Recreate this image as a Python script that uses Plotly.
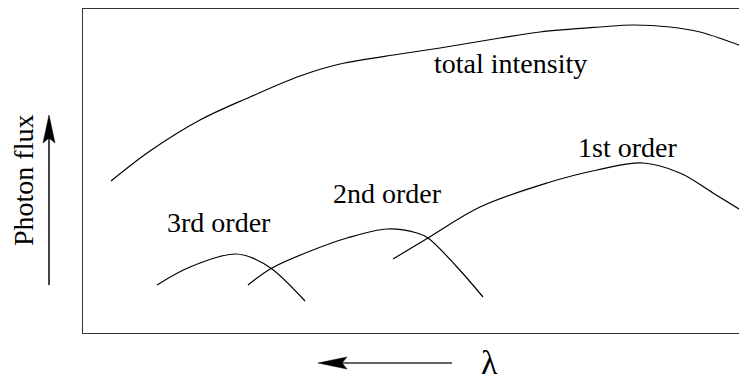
import plotly.graph_objects as go

# Curves (x: wavelength position, y: flux position; screen-like units)
total_x = [111, 150, 200, 250, 300, 340, 400, 440, 500, 540, 600, 633, 670, 700, 725, 747]
total_y = [181, 151, 120, 97, 76, 64, 54, 48, 38, 32, 27, 25, 27, 32, 40, 48]

first_x = [393, 428, 480, 547, 597, 643, 680, 713, 747]
first_y = [259, 238, 207, 183, 170, 163, 173, 193, 214]

second_x = [248, 272, 313, 347, 387, 417, 428, 457, 483]
second_y = [285, 268, 250, 238, 229, 233, 238, 267, 297]

third_x = [157, 190, 235, 250, 272, 305]
third_y = [285, 267, 254, 257, 269, 301]

labels = ["total intensity", "1st order", "2nd order", "3rd order"]
label_x = [510, 627, 387, 219]
label_y = [63, 147, 193, 222]

# page offset of the plot inside the browser window (body margin)
OFF = 8
X0, X1 = 83, 747
Y0, Y1 = 333, 9

def px(v):
    return (v - X0) / (X1 - X0)

def py(v):
    return (Y0 - v) / (Y0 - Y1)

fig = go.Figure()
for xs, ys in [(total_x, total_y), (first_x, first_y), (second_x, second_y), (third_x, third_y)]:
    fig.add_trace(go.Scatter(x=xs, y=ys, mode="lines",
                             line=dict(color="black", width=1.2, shape="spline", smoothing=1.0),
                             hoverinfo="skip", showlegend=False))

SERIF = "Liberation Serif"
font = dict(family=SERIF, size=28, color="black")
for t, x, y in zip(labels, label_x, label_y):
    fig.add_annotation(x=x, y=y, xref="x", yref="y", text=t, showarrow=False,
                       font=font, xanchor="center", yanchor="middle")

fig.add_annotation(x=px(23), y=py(181), xref="paper", yref="paper", text="Photon flux",
                   textangle=-90, showarrow=False, font=font, xanchor="center", yanchor="middle")
fig.add_annotation(x=px(489), y=py(362), xref="paper", yref="paper", text="λ",
                   showarrow=False, font=dict(family=SERIF, size=34, color="black"),
                   xanchor="center", yanchor="middle")

shapes = [
    dict(type="line", xref="paper", yref="paper", x0=px(49), y0=py(285), x1=px(49), y1=py(138),
         line=dict(color="#444", width=2)),
    dict(type="path", xref="paper", yref="paper",
         path=f"M{px(49)},{py(115)} L{px(43)},{py(143)} L{px(49)},{py(138)} L{px(55)},{py(143)} Z",
         fillcolor="black", line=dict(color="black", width=0.5)),
    dict(type="line", xref="paper", yref="paper", x0=px(452), y0=py(363), x1=px(342), y1=py(363),
         line=dict(color="#333", width=1.5)),
    dict(type="path", xref="paper", yref="paper",
         path=f"M{px(318)},{py(363)} L{px(347)},{py(357)} L{px(342)},{py(363)} L{px(347)},{py(369)} Z",
         fillcolor="black", line=dict(color="black", width=0.5)),
]

W, H = 747 - OFF, 380 - OFF
fig.update_layout(
    width=W, height=H,
    margin=dict(l=X0 - OFF, r=0, t=Y1 - OFF, b=H - (Y0 - OFF)),
    paper_bgcolor="white", plot_bgcolor="white",
    font=dict(family=SERIF),
    shapes=shapes,
    xaxis=dict(range=[X0, X1], showgrid=False, zeroline=False, showticklabels=False, ticks="",
               showline=True, mirror=True, linecolor="#333", linewidth=1),
    yaxis=dict(range=[Y0, Y1], showgrid=False, zeroline=False, showticklabels=False, ticks="",
               showline=True, mirror=True, linecolor="#333", linewidth=1),
)

fig.write_html("out.html")
